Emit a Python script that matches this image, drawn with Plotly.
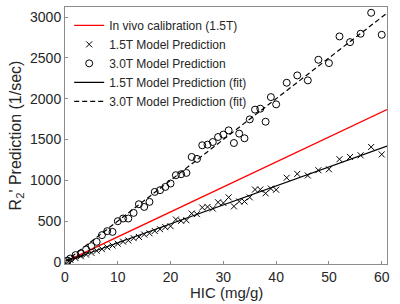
import plotly.graph_objects as go

# ---- data ----
hic_15 = [0.5, 1, 2, 3, 4, 5, 6, 7, 8, 9, 10, 11, 12, 13, 14, 15, 16, 17, 18, 19, 20,
          21, 22, 23, 24, 25, 26, 27, 28, 29, 30, 31, 32, 33, 34, 35, 36, 37, 38, 39, 40,
          42, 44, 46, 48, 50, 52, 54, 56, 58, 60]
r2_15 = [10, 25, 45, 68, 88, 110, 135, 155, 178, 200, 222, 248, 262, 290, 305, 335, 350, 378, 400, 425, 437,
         519, 502, 510, 592, 584, 666, 673, 653, 730, 722, 790, 680, 740, 740, 790, 886, 886, 840, 898, 884,
         1031, 1078, 1058, 1123, 1135, 1258, 1286, 1306, 1408, 1317]

hic_30 = [0.5, 1, 2, 3, 4, 5, 6, 7, 8, 9, 10, 11, 12, 13, 14, 15, 16, 17, 18, 19, 20,
          21, 22, 23, 24, 25, 26, 27, 28, 29, 30, 31, 32, 33, 34, 35, 36, 37, 38, 39, 40,
          42, 44, 46, 48, 50, 52, 54, 56, 58, 60]
r2_30 = [15, 40, 82, 103, 152, 192, 245, 327, 376, 367, 498, 531, 531, 600, 706, 673, 735, 857, 878, 918, 960,
         1062, 1074, 1090, 1286, 1262, 1429, 1437, 1469, 1531, 1560, 1612, 1457, 1572, 1515, 1747, 1866, 1878, 1718, 2020, 1931,
         2196, 2286, 2225, 2478, 2437, 2764, 2694, 2797, 3054, 2784]

line_x = [0, 61]
invivo_y = [0, 1866]
fit15_y = [0, 1420]
fit30_y = [0, 3050]

x_ticks = [0, 10, 20, 30, 40, 50, 60]
y_ticks = [0, 500, 1000, 1500, 2000, 2500, 3000]

FONT = "Liberation Sans, Arial, sans-serif"
TXT = "#262626"

fig = go.Figure()
fig.add_trace(go.Scatter(x=line_x, y=invivo_y, mode="lines",
                         line=dict(color="#ff0000", width=1.3),
                         name="In vivo calibration (1.5T)"))
fig.add_trace(go.Scatter(x=hic_15, y=r2_15, mode="markers",
                         marker=dict(symbol="x-thin-open", size=6, color="black",
                                     line=dict(color="black", width=1)),
                         name="1.5T Model Prediction"))
fig.add_trace(go.Scatter(x=hic_30, y=r2_30, mode="markers",
                         marker=dict(symbol="circle-open", size=7, color="black",
                                     line=dict(color="black", width=1)),
                         name="3.0T Model Prediction"))
fig.add_trace(go.Scatter(x=line_x, y=fit15_y, mode="lines",
                         line=dict(color="black", width=1.2),
                         name="1.5T Model Prediction (fit)"))
fig.add_trace(go.Scatter(x=line_x, y=fit30_y, mode="lines",
                         line=dict(color="black", width=1.2, dash="5px,3px"),
                         name="3.0T Model Prediction (fit)"))

axis_common = dict(showline=True, linecolor="#8c8c8c", linewidth=1, mirror=True,
                   ticks="inside", ticklen=3, tickcolor="#8c8c8c",
                   showgrid=False, zeroline=False,
                   tickfont=dict(family=FONT, size=14, color=TXT))

fig.update_layout(
    width=400, height=304,
    margin=dict(l=65, r=13, t=7, b=40),
    paper_bgcolor="white", plot_bgcolor="white",
    font=dict(family=FONT, color=TXT),
    xaxis=dict(range=[0, 61], tickvals=x_ticks, **axis_common),
    yaxis=dict(range=[-27, 3125], tickvals=y_ticks,
               title=dict(text="R<sub>2</sub>' Prediction (1/sec)",
                          font=dict(family=FONT, size=16, color=TXT), standoff=4),
               **axis_common),
    legend=dict(x=0.013, y=0.985, xanchor="left", yanchor="top",
                bgcolor="rgba(0,0,0,0)", borderwidth=0,
                font=dict(family=FONT, size=12, color=TXT)),
    showlegend=True,
    annotations=[dict(text="HIC (mg/g)", xref="paper", yref="paper",
                      x=0.5, y=-0.112, xanchor="center", yanchor="middle",
                      showarrow=False, font=dict(family=FONT, size=15, color=TXT))],
)

fig.write_html("out.html", config={"displayModeBar": False},
               post_script="document.body.style.margin='0px';document.body.style.overflow='hidden';")
